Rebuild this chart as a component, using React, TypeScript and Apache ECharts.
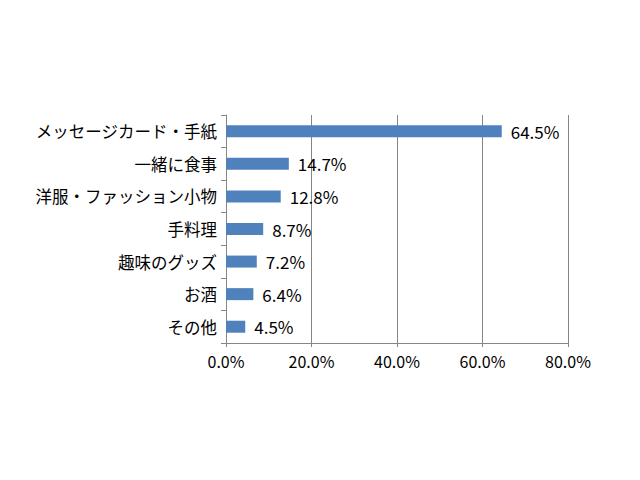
import { useEffect, useRef } from 'react'
import * as echarts from 'echarts'

const categories = ['メッセージカード・手紙', '一緒に食事', '洋服・ファッション小物', '手料理', '趣味のグッズ', 'お酒', 'その他']
const values = [64.5, 14.7, 12.8, 8.7, 7.2, 6.4, 4.5]

const FONT = '"Noto Sans CJK JP", sans-serif'

export default function App() {
  const ref = useRef<HTMLDivElement>(null)

  useEffect(() => {
    if (!ref.current) return
    document.body.style.margin = '0'
    const chart = echarts.init(ref.current, undefined, { renderer: 'svg' })
    chart.setOption({
      animation: false,
      backgroundColor: '#ffffff',
      grid: { left: 226, right: 72, top: 115, bottom: 137, containLabel: false },
      xAxis: {
        type: 'value',
        min: 0,
        max: 80,
        interval: 20,
        axisLine: { show: true, lineStyle: { color: '#868686' } },
        axisTick: { show: true, length: 4, lineStyle: { color: '#868686' } },
        splitLine: { show: true, lineStyle: { color: '#868686' } },
        axisLabel: {
          formatter: (v: number) => v.toFixed(1) + '%',
          color: '#000',
          fontSize: 16,
          fontFamily: FONT,
          margin: 10,
        },
      },
      yAxis: {
        type: 'category',
        inverse: true,
        data: categories,
        axisLine: { show: true, lineStyle: { color: '#868686' } },
        axisTick: { show: true, length: 5, lineStyle: { color: '#868686' } },
        axisLabel: {
          color: '#000',
          fontSize: 16.5,
          fontFamily: FONT,
          margin: 9,
        },
      },
      series: [
        {
          type: 'bar',
          data: values,
          barWidth: 12,
          itemStyle: { color: '#4F81BD' },
          label: {
            show: true,
            position: 'right',
            distance: 9,
            formatter: (p: { value: number }) => p.value.toFixed(1) + '%',
            color: '#000',
            fontSize: 17,
            fontFamily: FONT,
          },
        },
      ],
    })
    return () => chart.dispose()
  }, [])

  return <div ref={ref} style={{ width: 640, height: 480 }} />
}
